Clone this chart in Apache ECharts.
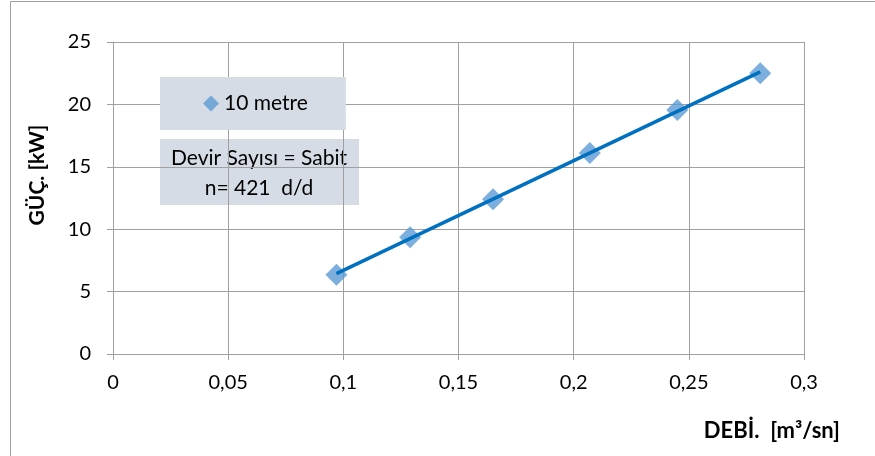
<!DOCTYPE html>
<html>
<head>
<meta charset="utf-8">
<script src="https://cdn.jsdelivr.net/npm/echarts@6/dist/echarts.min.js"></script>
<style>
  html, body { margin: 0; padding: 0; background: #fff; }
</style>
</head>
<body>
<div id="chart" style="width: 875px; height: 456px;"></div>
<script>
// debi (m3/sn) ve güç (kW) okumaları
var debi = [0.097, 0.129, 0.165, 0.207, 0.245, 0.281];
var guc = [6.35, 9.35, 12.4, 16.1, 19.55, 22.5];
var seriesName = '10 metre';
var infoLines = ['Devir Sayısı = Sabit', 'n= 421  d/d'];

var points = debi.map(function (d, i) { return [d, guc[i]]; });

// doğrusal eğilim çizgisi (en küçük kareler)
var n = debi.length, sx = 0, sy = 0, sxy = 0, sxx = 0;
for (var i = 0; i < n; i++) {
  sx += debi[i]; sy += guc[i]; sxy += debi[i] * guc[i]; sxx += debi[i] * debi[i];
}
var slope = (n * sxy - sx * sy) / (n * sxx - sx * sx);
var icpt = (sy - slope * sx) / n;
var xMin = Math.min.apply(null, debi), xMax = Math.max.apply(null, debi);
var trend = [[xMin, icpt + slope * xMin], [xMax, icpt + slope * xMax]];

var font = 'Lato, "Noto Sans", sans-serif';
var chart = echarts.init(document.getElementById('chart'));
chart.setOption({
  animation: false,
  grid: { left: 113, right: 71, top: 42, bottom: 102 },
  legend: {
    data: [seriesName],
    left: 160, top: 77,
    orient: 'vertical',
    backgroundColor: '#D6DCE5',
    padding: [16, 38, 16, 43],
    itemWidth: 16, itemHeight: 16, itemGap: 0,
    textStyle: { fontFamily: font, fontSize: 21, color: '#000' }
  },
  xAxis: {
    type: 'value', min: 0, max: 0.3, interval: 0.05,
    axisLine: { show: true, lineStyle: { color: '#A0A0A0', width: 1 } },
    axisTick: { show: true, length: 6, lineStyle: { color: '#A0A0A0' } },
    splitLine: { show: true, lineStyle: { color: '#A0A0A0', width: 1 } },
    axisLabel: {
      margin: 19, color: '#000', fontFamily: font, fontSize: 20,
      formatter: function (v) { return String(+v.toFixed(2)).replace('.', ','); }
    }
  },
  yAxis: {
    type: 'value', min: 0, max: 25, interval: 5,
    axisLine: { show: true, lineStyle: { color: '#A0A0A0', width: 1 } },
    axisTick: { show: true, length: 6, lineStyle: { color: '#A0A0A0' } },
    splitLine: { show: true, lineStyle: { color: '#A0A0A0', width: 1 } },
    axisLabel: { margin: 22, color: '#000', fontFamily: font, fontSize: 20 }
  },
  series: [
    {
      name: seriesName,
      type: 'scatter',
      symbol: 'diamond',
      symbolSize: 22,
      itemStyle: { color: '#5B9BD5' },
      data: points,
      z: 2
    },
    {
      name: 'trend',
      type: 'line',
      symbol: 'none',
      lineStyle: { color: '#0070C0', width: 3.5 },
      data: trend,
      z: 3
    }
  ],
  graphic: [
    {
      type: 'rect', silent: true, z: -1,
      shape: { x: 10.5, y: 1.5, width: 2000, height: 2000 },
      style: { fill: 'none', stroke: '#A0A0A0', lineWidth: 1 }
    },
    {
      type: 'rect', silent: true,
      shape: { x: 160, y: 139, width: 199, height: 66 },
      style: { fill: '#D6DCE5' }
    },
    {
      type: 'text', silent: true, x: 259, y: 143,
      style: {
        text: infoLines.join('\n'), align: 'center', verticalAlign: 'top',
        fontFamily: font, fontSize: 21, lineHeight: 30, fill: '#000'
      }
    },
    {
      type: 'text', silent: true, rotation: Math.PI / 2,
      x: 37, y: 175,
      style: {
        text: 'GÜÇ. [kW]', align: 'center', verticalAlign: 'middle',
        fontFamily: font, fontSize: 21, fontWeight: 'bold', fill: '#000'
      }
    },
    {
      type: 'text', silent: true, x: 840, y: 431,
      style: {
        text: 'DEBİ.  [m³/sn]', align: 'right', verticalAlign: 'middle',
        fontFamily: font, fontSize: 22, fontWeight: 'bold', fill: '#000'
      }
    }
  ]
});
</script>
</body>
</html>
